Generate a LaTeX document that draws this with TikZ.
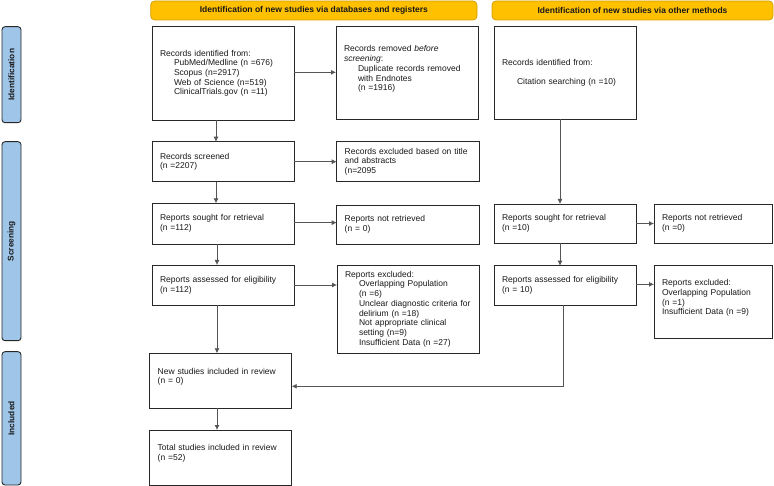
\documentclass[tikz,border=0pt]{standalone}
\usepackage{fontspec}
\setmainfont{Liberation Sans}
\usetikzlibrary{arrows.meta}
\definecolor{hdrfill}{RGB}{255,192,0}
\definecolor{hdrdraw}{RGB}{214,160,0}
\definecolor{tabfill}{RGB}{159,197,232}
\definecolor{boxdraw}{RGB}{40,40,40}
\definecolor{arrcol}{RGB}{85,85,85}
\definecolor{txtcol}{RGB}{25,25,25}
\tikzset{
  flowbox/.style={draw=boxdraw, line width=0.9pt, fill=white, inner xsep=8pt, inner ysep=2pt,
    align=left, text=txtcol, font=\fontsize{8.5}{9.7}\selectfont, outer sep=0pt},
  hdr/.style={draw=hdrdraw, line width=0.8pt, fill=hdrfill, rounded corners=4pt, text=txtcol,
    font=\bfseries\fontsize{8.5}{10}\selectfont, inner sep=0pt},
  sidetab/.style={draw=boxdraw, line width=0.9pt, fill=tabfill, rounded corners=3pt, text=txtcol,
    font=\bfseries\fontsize{8.3}{10}\selectfont, inner sep=0pt},
  arr/.style={draw=arrcol, line width=0.8pt, -{Latex[length=5pt,width=5pt]}},
  lin/.style={draw=arrcol, line width=0.8pt}
}
\newcommand{\ind}{\hspace*{14pt}}
\begin{document}
\begin{tikzpicture}[x=1pt,y=-1pt]
\useasboundingbox (0,0) rectangle (774,486);
% headers
\node[hdr, minimum width=326.3, minimum height=19] (h1) at (313.85,10.5) {Identification of new studies via databases and registers};
\node[hdr, minimum width=281, minimum height=19] (h2) at (632.5,10.5) {Identification of new studies via other methods};
% side tabs
\node[sidetab, minimum width=19, minimum height=96] (t1) at (11.5,74.7) {};
\node[rotate=90, font=\bfseries\fontsize{8.3}{10}\selectfont, text=txtcol] (t1l) at (t1.center) {Identification};
\node[sidetab, minimum width=19, minimum height=199] (t2) at (11.5,241.2) {};
\node[rotate=90, font=\bfseries\fontsize{8.3}{10}\selectfont, text=txtcol] (t2l) at (t2.center) {Screening};
\node[sidetab, minimum width=19, minimum height=133.3] (t3) at (11.5,418.35) {};
\node[rotate=90, font=\bfseries\fontsize{8.3}{10}\selectfont, text=txtcol] (t3l) at (t3.center) {Included};
% left column
\node[flowbox, minimum width=142, minimum height=93.3, text width=126] (id) at (223,73.35)
 {Records identified from:\\\ind PubMed/Medline (n =676)\\\ind Scopus (n=2917)\\\ind Web of Science (n=519)\\\ind ClinicalTrials.gov (n =11)};
\node[flowbox, minimum width=142, minimum height=92.8, text width=126] (rem) at (407,73.1)
 {Records removed \textit{before}\\\textit{screening}:\\\ind Duplicate records removed\\\ind with Endnotes\\\ind (n =1916)\\\mbox{}};
\node[flowbox, minimum width=142, minimum height=40, text width=126] (scr) at (223,161.7)
 {Records screened\\(n =2207)};
\node[flowbox, minimum width=142.3, minimum height=40, text width=126.3] (exc) at (407.85,161.7)
 {Records excluded based on title\\and abstracts\\(n=2095};
\node[flowbox, minimum width=142, minimum height=40.7, text width=126] (sgt) at (223,223.65)
 {Reports sought for retrieval\\(n =112)};
\node[flowbox, minimum width=142.3, minimum height=39, text width=126.3] (nrt) at (407.85,224.5)
 {Reports not retrieved\\(n = 0)};
\node[flowbox, minimum width=142, minimum height=40, text width=126] (ass) at (223,285)
 {Reports assessed for eligibility\\(n =112)};
\node[flowbox, minimum width=142, minimum height=88, text width=126] (exl) at (408,309)
 {Reports excluded:\\\ind Overlapping Population\\\ind (n =6)\\\ind Unclear diagnostic criteria for\\\ind delirium (n =18)\\\ind Not appropriate clinical\\\ind setting (n=9)\\\ind Insufficient Data (n =27)};
\node[flowbox, minimum width=142, minimum height=55, text width=126] (new) at (220.7,380.8)
 {New studies included in review\\(n = 0)\\\mbox{}};
\node[flowbox, minimum width=141.3, minimum height=55, text width=125.3] (tot) at (220.35,457.5)
 {Total studies included in review\\(n =52)\\\mbox{}};
% right column
\node[flowbox, minimum width=142, minimum height=92.6, text width=126] (oth) at (565,73)
 {Records identified from:\\[9.7pt]\hspace*{15pt}Citation searching (n =10)};
\node[flowbox, minimum width=142, minimum height=39, text width=126] (sgt2) at (565,223.5)
 {Reports sought for retrieval\\(n =10)};
\node[flowbox, minimum width=118, minimum height=39, text width=102] (nrt2) at (713,223.5)
 {Reports not retrieved\\(n =0)};
\node[flowbox, minimum width=142, minimum height=39.3, text width=126] (ass2) at (565,285.35)
 {Reports assessed for eligibility\\(n = 10)};
\node[flowbox, minimum width=118, minimum height=72.6, text width=102] (exl2) at (713,302)
 {Reports excluded:\\Overlapping Population\\(n =1)\\Insufficient Data (n =9)\\\mbox{}};
% column coordinates for vertical connectors
\coordinate (cA) at (216,0);
\coordinate (cB) at (217,0);
\coordinate (cC) at (560,0);
\coordinate (cD) at (563.3,0);
% connectors
\draw[arr] (id.south -| cA) -- (scr.north -| cA);
\draw[arr] (scr.south -| cA) -- (sgt.north -| cA);
\draw[arr] (sgt.south -| cB) -- (ass.north -| cB);
\draw[arr] (ass.south -| cB) -- (new.north -| cB);
\draw[arr] (new.south -| cB) -- (tot.north -| cB);
\draw[arr] ([yshift=1]id.east) -- ([yshift=1]id.east -| rem.west);
\draw[arr] (scr.east) -- (scr.east -| exc.west);
\draw[arr] ([yshift=1]sgt.east) -- ([yshift=1]sgt.east -| nrt.west);
\draw[arr] (ass.east) -- (ass.east -| exl.west);
\draw[arr] (oth.south -| cC) -- (sgt2.north -| cC);
\draw[arr] (sgt2.south -| cC) -- (ass2.north -| cC);
\draw[arr] (sgt2.east) -- (sgt2.east -| nrt2.west);
\draw[arr] ([yshift=1]ass2.east) -- ([yshift=1]ass2.east -| exl2.west);
\draw[arr] (ass2.south -| cD) |- ([yshift=-5.5]new.east);
\end{tikzpicture}
\end{document}
